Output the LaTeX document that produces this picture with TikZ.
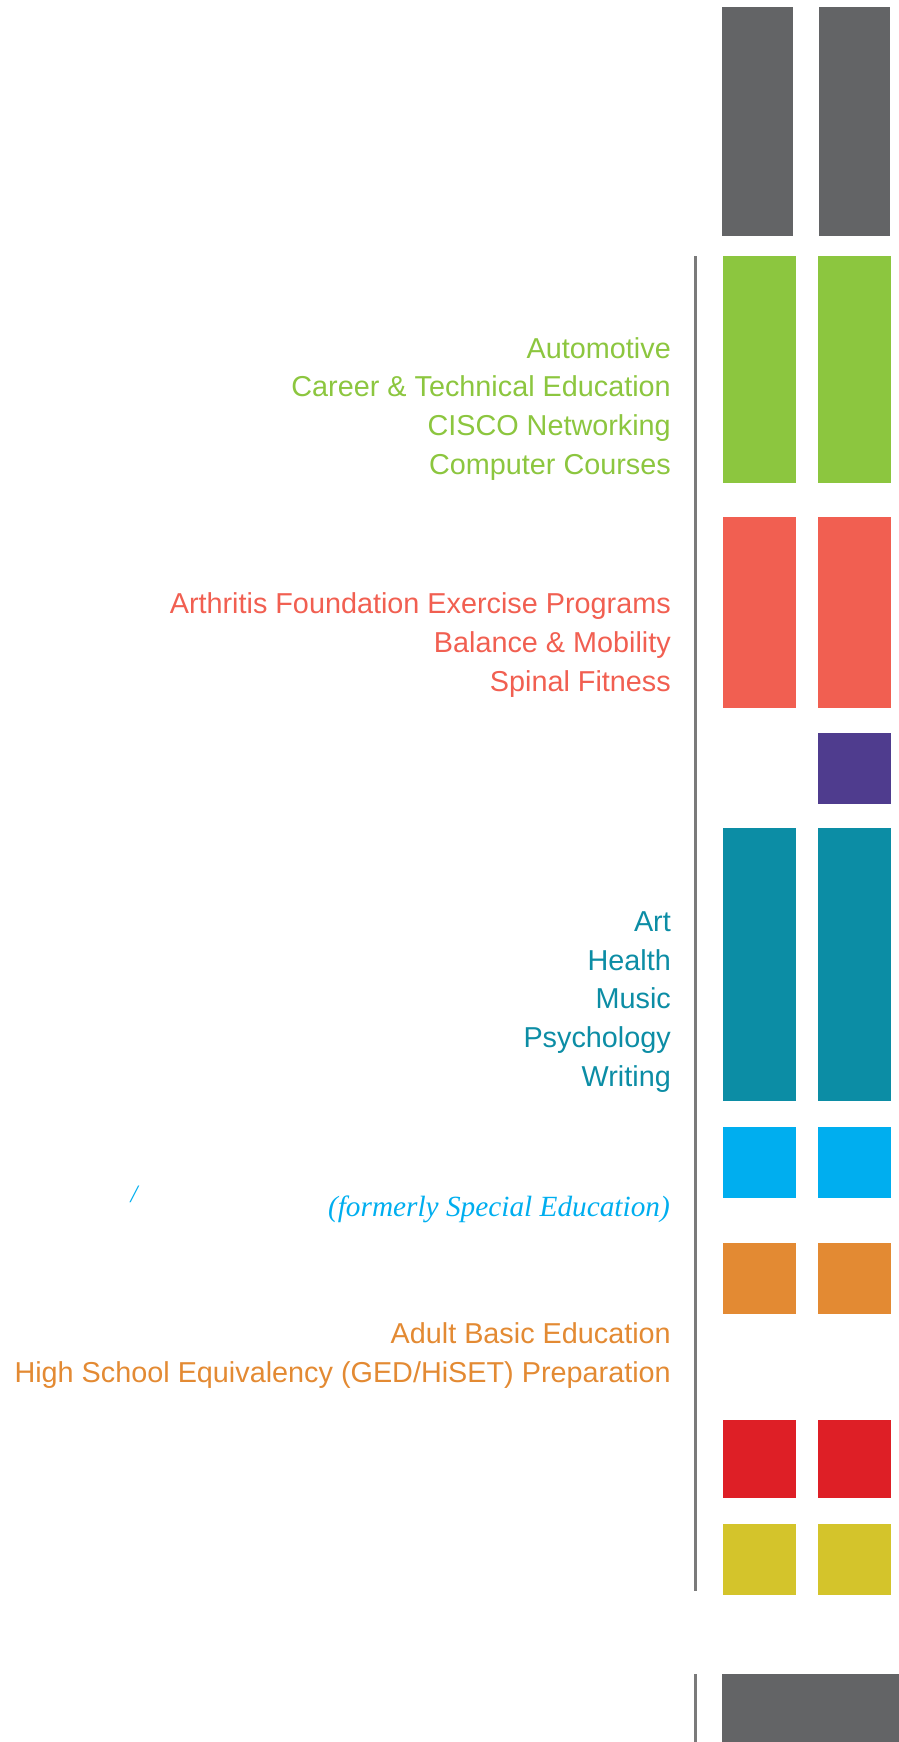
\documentclass[tikz,border=0pt]{standalone}
\usepackage{fontspec}
\setmainfont{Liberation Sans}
\newfontfamily\itserif{Liberation Serif}
\definecolor{cgray}{HTML}{636466}
\definecolor{cline}{HTML}{7A7A7A}
\definecolor{cgreen}{HTML}{8CC63F}
\definecolor{csalmon}{HTML}{F15F51}
\definecolor{cpurple}{HTML}{4F3C8E}
\definecolor{cteal}{HTML}{0C8DA5}
\definecolor{ccyan}{HTML}{00AEEF}
\definecolor{corange}{HTML}{E38A33}
\definecolor{cred}{HTML}{DE1F26}
\definecolor{cyellow}{HTML}{D4C42B}
\tikzset{
  lbl/.style={anchor=base east, inner sep=0pt, font=\fontsize{28.8}{38.7}\selectfont},
  rule/.style={draw=cline, line width=2.7pt}
}
\begin{document}
\begin{tikzpicture}[x=1pt,y=-1pt]
\useasboundingbox (0,0) rectangle (899,1742);
% bars
\fill[cgray] (722,7) rectangle (793,236);
\fill[cgray] (819,7) rectangle (890,236);
\fill[cgreen] (723,256) rectangle (796,483);
\fill[cgreen] (818,256) rectangle (891,483);
\fill[csalmon] (723,517) rectangle (796,708);
\fill[csalmon] (818,517) rectangle (891,708);
\fill[cpurple] (818,733) rectangle (891,804);
\fill[cteal] (723,828) rectangle (796,1101);
\fill[cteal] (818,828) rectangle (891,1101);
\fill[ccyan] (723,1127) rectangle (796,1198);
\fill[ccyan] (818,1127) rectangle (891,1198);
\fill[corange] (723,1243) rectangle (796,1314);
\fill[corange] (818,1243) rectangle (891,1314);
\fill[cred] (723,1420) rectangle (796,1498);
\fill[cred] (818,1420) rectangle (891,1498);
\fill[cyellow] (723,1524) rectangle (796,1595);
\fill[cyellow] (818,1524) rectangle (891,1595);
\fill[cgray] (722,1674) rectangle (899,1742);
% vertical rules
\coordinate (r1a) at (695.3,256);
\coordinate (r1b) at (695.3,1591);
\coordinate (r2a) at (695.3,1674);
\coordinate (r2b) at (695.3,1742);
\draw[rule] (r1a) -- (r1b);
\draw[rule] (r2a) -- (r2b);
% green
\node[lbl, text=cgreen] (g1) at (671,358) {Automotive};
\node[lbl, text=cgreen] (g2) at (671,396.7) {Career \& Technical Education};
\node[lbl, text=cgreen] (g3) at (671,435.4) {CISCO Networking};
\node[lbl, text=cgreen] (g4) at (671,474.1) {Computer Courses};
% salmon
\node[lbl, text=csalmon] (s1) at (671,613.8) {Arthritis Foundation Exercise Programs};
\node[lbl, text=csalmon] (s2) at (671,652.5) {Balance \& Mobility};
\node[lbl, text=csalmon] (s3) at (671,691.2) {Spinal Fitness};
% teal
\node[lbl, text=cteal] (t1) at (671,931.4) {Art};
\node[lbl, text=cteal] (t2) at (671,970.1) {Health};
\node[lbl, text=cteal] (t3) at (671,1008.8) {Music};
\node[lbl, text=cteal] (t4) at (671,1047.5) {Psychology};
\node[lbl, text=cteal] (t5) at (671,1086.2) {Writing};
% cyan
\node[anchor=base, inner sep=0pt, text=ccyan, font=\itserif\itshape\fontsize{25}{30}\selectfont] (slash) at (134,1202) {/};
\node[anchor=base east, inner sep=0pt, text=ccyan, font=\itserif\itshape\fontsize{29.3}{36}\selectfont] (c1) at (670,1216) {(formerly Special Education)};
% orange
\node[lbl, text=corange] (o1) at (671,1343.8) {Adult Basic Education};
\node[lbl, text=corange] (o2) at (671,1382.5) {High School Equivalency (GED/HiSET) Preparation};
\end{tikzpicture}
\end{document}
